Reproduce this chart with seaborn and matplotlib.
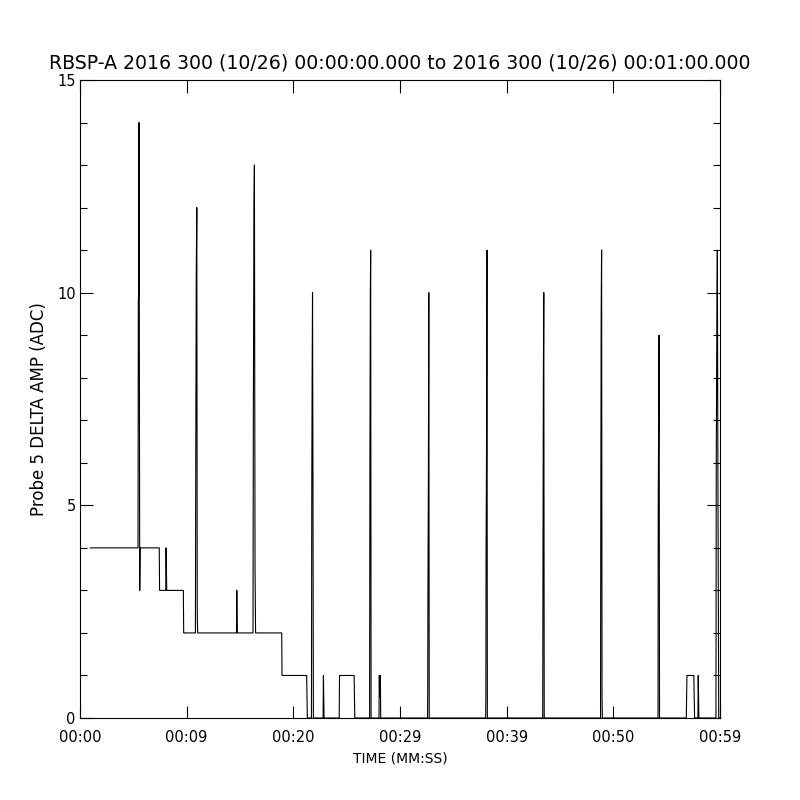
import matplotlib
matplotlib.use("Agg")
import matplotlib.pyplot as plt
from matplotlib.ticker import MultipleLocator
import seaborn as sns

# sample times (seconds after 00:00:00) and probe 5 delta amplitude (ADC)
time_s = [
    0.94, 5.44, 5.47, 5.50, 5.53, 5.56, 5.60, 5.64,
    7.43, 7.46, 8.04, 8.07, 8.10, 8.13, 9.69, 9.72,
    10.82, 10.85, 10.90, 10.95, 10.99, 11.03,
    14.67, 14.70, 14.72, 14.75,
    16.22, 16.25, 16.31, 16.35, 16.41, 16.46,
    18.91, 18.94, 21.25, 21.28, 21.31,
    21.70, 21.73, 21.77, 21.80, 21.84, 21.88,
    22.79, 22.82, 22.85, 22.88,
    24.30, 24.33, 25.70, 25.73, 25.76,
    27.15, 27.18, 27.22, 27.25, 27.29,
    28.03, 28.06, 28.09, 28.13, 28.16, 28.19,
    32.58, 32.60, 32.62, 32.66, 32.70, 32.74,
    38.03, 38.05, 38.07, 38.11, 38.15, 38.19,
    43.38, 43.40, 43.44, 43.48, 43.52,
    48.80, 48.82, 48.86, 48.90, 48.94, 48.97,
    54.19, 54.21, 54.25, 54.29, 54.33,
    56.84, 56.87, 56.90, 57.55, 57.58, 57.62,
    57.93, 57.96, 57.99, 58.02,
    59.62, 59.65, 59.70, 59.75, 59.80, 59.88, 59.95,
]
amp = [
    4, 4, 9.8, 10, 14, 9.3, 3, 4,
    4, 3, 3, 4, 3.5, 3, 3, 2,
    2, 5.7, 10.5, 12, 2.5, 2,
    2, 3, 2.5, 2,
    2, 7, 12, 13, 3.5, 2,
    2, 1, 1, 0.5, 0,
    0, 5.5, 8.5, 10, 5.5, 0,
    0, 1, 0.5, 0,
    0, 1, 1, 0.5, 0,
    0, 6, 10, 11, 0,
    0, 1, 0.5, 0.5, 1, 0,
    0, 0.5, 3, 5.5, 10, 0,
    0, 0.5, 4, 6, 11, 0,
    0, 3, 8, 10, 0,
    0, 4, 9.5, 11, 0.5, 0,
    0, 5, 7, 9, 0,
    0, 0.5, 1, 1, 0.5, 0,
    0, 1, 0.5, 0,
    0, 6, 9, 11, 6, 0, 0,
]

x_ticks = [0, 10, 20, 30, 40, 50, 60]
x_tick_labels = ["00:00", "00:09", "00:20", "00:29", "00:39", "00:50", "00:59"]
y_ticks = [0, 5, 10, 15]

sns.set_style("white")
plt.rcParams['font.family'] = ['DejaVu Sans']
plt.rcParams['text.color'] = 'black'
plt.rcParams['axes.labelcolor'] = 'black'
plt.rcParams['xtick.color'] = 'black'
plt.rcParams['ytick.color'] = 'black'

fig = plt.figure(figsize=(8, 8), dpi=100)
ax = fig.add_axes([0.1, 0.1025, 0.8, 0.7975])

sns.lineplot(x=time_s, y=amp, estimator=None, sort=False, color='black',
             linewidth=0.8, ax=ax)

ax.set_xlim(0, 60)
ax.set_ylim(0, 15)
ax.set_xticks(x_ticks)
ax.set_xticklabels(x_tick_labels)
ax.set_yticks(y_ticks)
ax.yaxis.set_minor_locator(MultipleLocator(1))

ax.tick_params(axis='both', which='both', direction='in',
               top=True, right=True, bottom=True, left=True,
               color='black', labelcolor='black', width=0.8, labelsize=10.5)
ax.tick_params(axis='x', which='major', length=9, pad=9)
ax.tick_params(axis='y', which='major', length=9.5, pad=3)
ax.tick_params(axis='y', which='minor', length=4.7)

for sp in ax.spines.values():
    sp.set_color('black')
    sp.set_linewidth(0.8)

ax.set_title("RBSP-A 2016 300 (10/26) 00:00:00.000 to 2016 300 (10/26) 00:01:00.000",
             fontsize=13.6, pad=8, color='black')
ax.set_xlabel("TIME (MM:SS)", fontsize=10, labelpad=4)
ax.set_ylabel("Probe 5 DELTA AMP (ADC)", fontsize=12)
ax.yaxis.set_label_coords(-0.05, 0.485)

fig.savefig("out.png", dpi=100, facecolor='white')
